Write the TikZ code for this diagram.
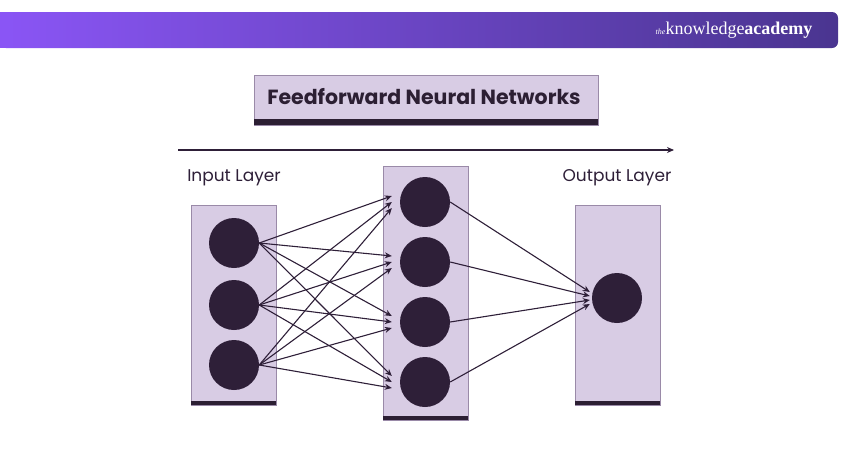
\documentclass[tikz,border=0pt]{standalone}
\usepackage{fontspec}
\setsansfont{Poppins}
\setmainfont{Liberation Serif}
\usepackage{tikz}
\usetikzlibrary{arrows.meta,positioning,calc}
\definecolor{layerfill}{HTML}{D8CCE4}
\definecolor{layerdraw}{HTML}{9A8AA8}
\definecolor{neuron}{HTML}{2E1F38}
\definecolor{band}{HTML}{2C1F33}
\definecolor{barleft}{HTML}{8A55F5}
\definecolor{barright}{HTML}{4A3590}
\tikzset{
  layer/.style={rectangle, draw=layerdraw, fill=layerfill, minimum width=85pt, inner sep=0pt},
  unit/.style={circle, fill=neuron, minimum size=50pt, inner sep=0pt},
  caption/.style={font=\sffamily\fontsize{17}{20}\selectfont, text=neuron},
  line/.style={-{Stealth[length=7pt,width=6pt]}, draw=neuron, line width=1.1pt}
}
\begin{document}
\begin{tikzpicture}[x=1pt,y=-1pt]
  \useasboundingbox (0,0) rectangle (850,450);
  % Header
  \shade[left color=barleft, right color=barright, rounded corners=6pt] (0,12) rectangle (838,48);
  \fill[barleft] (0,12) rectangle (10,48);
  \node[text=white, font=\fontsize{18}{20}\selectfont, anchor=east] (brand) at (816,30) {{\itshape\footnotesize the}knowledge\textbf{academy}};

  % Title
  \node[rectangle, draw=layerdraw, fill=layerfill, minimum width=344pt, minimum height=50pt] (title) at (426,100) {};
  \fill[band] (title.south west) rectangle ++(344,-6);
  \node[font=\sffamily\bfseries\fontsize{20.5}{24}\selectfont, text=band] at (424,97) {Feedforward Neural Networks};

  % Direction arrow
  \coordinate (dirs) at (178,150);
  \coordinate (dire) at (674,150);
  \draw[line] (dirs) -- (dire);

  % Layers
  \node[layer, minimum height=200pt] (inbox) at (233.5,305) {};
  \node[layer, minimum height=254pt] (hidbox) at (425.5,293) {};
  \node[layer, minimum height=200pt] (outbox) at (617.5,305) {};
  \foreach \b in {inbox,hidbox,outbox}
    \fill[band] (\b.south west) rectangle ($(\b.south east)+(0,-4)$);
  \node[caption] (inlab) at (234,178) {Input Layer};
  \node[caption] (outlab) at (617,178) {Output Layer};

  % Units
  \foreach \i/\y in {1/243,2/305,3/365}
    \node[unit] (i\i) at (234,\y) {};
  \foreach \j/\y in {1/202,2/262,3/322,4/382}
    \node[unit] (h\j) at (425,\y) {};
  \node[unit] (o) at (617,298) {};

  % Connections
  \foreach \i in {1,2,3}
    \foreach \j in {1,2,3,4}
      \draw[line] (i\i.east) -- ($(h\j.west)+(-8,{(\i-2)*6})$);
  \foreach \j in {1,2,3,4}
    \draw[line] (h\j.east) -- ($(o.west)+(-2,{(\j-2.5)*4})$);
\end{tikzpicture}
\end{document}
